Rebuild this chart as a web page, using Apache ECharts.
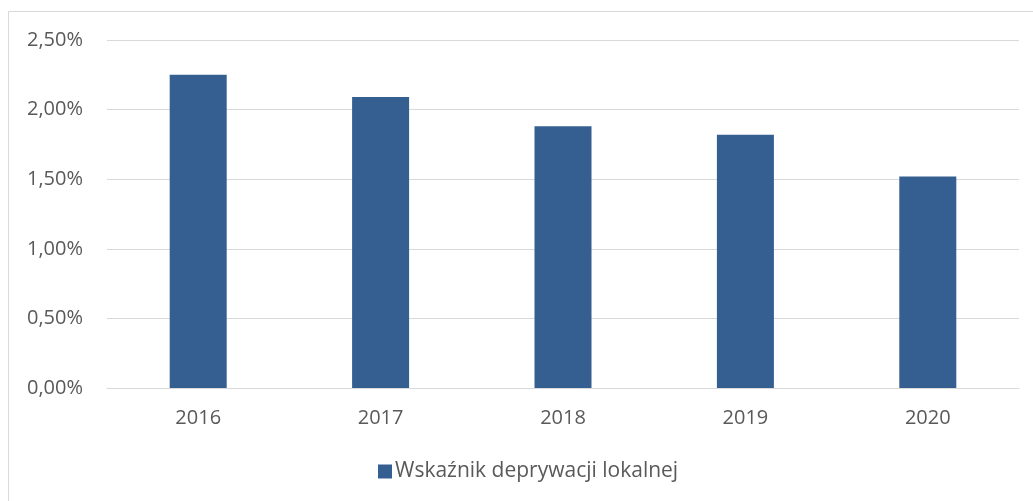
<!DOCTYPE html>
<html>
<head>
<meta charset="utf-8">
<script src="https://cdn.jsdelivr.net/npm/echarts@6/dist/echarts.min.js"></script>
<style>
  html, body { margin: 0; padding: 0; background: #fff; }
  #main { width: 1033px; height: 501px; }
</style>
</head>
<body>
<div id="main"></div>
<script>
// dane z wykresu
const years = ['2016', '2017', '2018', '2019', '2020'];
const values = [2.25, 2.09, 1.88, 1.82, 1.52];  // w procentach
const seriesName = 'Wskaźnik deprywacji lokalnej';

const fontFamily = '"Open Sans", Lato, sans-serif';
const textColor = '#595959';

var chart = echarts.init(document.getElementById('main'));
chart.setOption({
    animation: false,
    graphic: [
        {
            type: 'rect',
            shape: { x: 8.5, y: 11.5, width: 1100, height: 600 },
            style: { fill: 'none', stroke: '#d9d9d9', lineWidth: 1 },
            silent: true
        }
    ],
    grid: {
        left: 107,
        right: 14,
        top: 40,
        bottom: 113
    },
    xAxis: {
        type: 'category',
        data: years,
        axisLine: { show: true, lineStyle: { color: '#d9d9d9', width: 1 } },
        axisTick: { show: false },
        axisLabel: {
            color: textColor,
            fontFamily: fontFamily,
            fontSize: 20,
            margin: 20
        }
    },
    yAxis: {
        type: 'value',
        min: 0,
        max: 2.5,
        interval: 0.5,
        axisLine: { show: false },
        axisTick: { show: false },
        splitLine: { lineStyle: { color: '#d9d9d9', width: 1 } },
        axisLabel: {
            color: textColor,
            fontFamily: fontFamily,
            fontSize: 20,
            margin: 24,
            formatter: function (v) {
                return v.toFixed(2).replace('.', ',') + '%';
            }
        }
    },
    legend: {
        bottom: 14,
        left: 373,
        icon: 'rect',
        itemWidth: 14,
        itemHeight: 14,
        itemGap: 6,
        textStyle: {
            color: textColor,
            fontFamily: fontFamily,
            fontSize: 21,
            padding: [0, 0, 0, -2]
        },
        data: [seriesName]
    },
    series: [
        {
            name: seriesName,
            type: 'bar',
            data: values,
            barWidth: 57,
            itemStyle: { color: '#365F91' }
        }
    ]
});
</script>
</body>
</html>
